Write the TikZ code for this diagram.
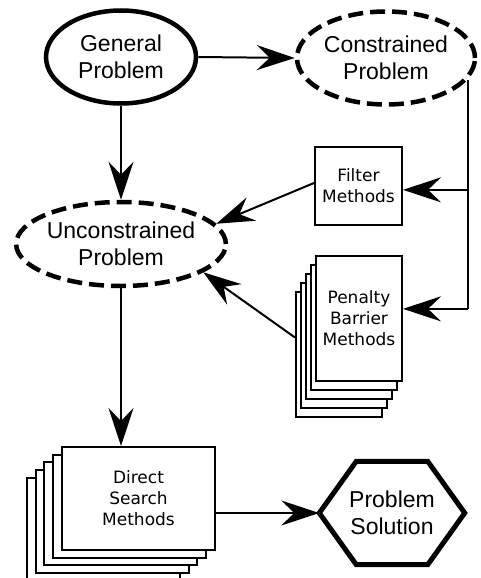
\documentclass[tikz,border=0pt]{standalone}
\usepackage{fontspec}
\usetikzlibrary{arrows.meta,calc,shapes.geometric}
\newfontfamily\ellfont{Liberation Sans}
\newfontfamily\boxfont{DejaVu Sans}
\tikzset{
  bigell/.style={draw, ellipse, line width=4.5pt, inner sep=0pt, align=center,
     font=\ellfont\fontsize{23}{27}\selectfont},
  dashell/.style={bigell, dash pattern=on 15pt off 7pt},
  methbox/.style={draw, fill=white, line width=2pt, inner sep=0pt, align=center,
     font=\boxfont\fontsize{17}{21}\selectfont},
  arr/.style={line width=2pt, -{Stealth[length=38pt,width=25pt,inset=13pt]}},
  plain/.style={line width=2pt}
}
\begin{document}
\begin{tikzpicture}[x=1pt,y=-1pt]
\useasboundingbox (0,0) rectangle (481,578);
\clip (0,0) rectangle (481,578);
% ellipses
\node[bigell, minimum width=150pt, minimum height=93pt] (gen) at (121,57) {General\\Problem};
\node[dashell, minimum width=178pt, minimum height=93pt] (con) at (386,58) {Constrained\\Problem};
\node[dashell, minimum width=208pt, minimum height=84pt] (unc) at (121,244) {Unconstrained\\Problem};
% filter box
\node[methbox, minimum width=87pt, minimum height=78pt] (filt) at (358.5,186) {Filter\\Methods};
% penalty stack
\foreach \k in {4,3,2,1}{
  \node[methbox, minimum width=86pt, minimum height=125pt] (pen\k) at ({359-5*\k},{318.5+9*\k}) {};
}
\node[methbox, minimum width=86pt, minimum height=125pt] (pen) at (359,318.5) {Penalty\\Barrier\\Methods};
% direct stack
\foreach \k in {4,3,2,1}{
  \node[methbox, minimum width=153pt, minimum height=103pt] (dir\k) at ({138.5-8.8*\k},{498.5+7.7*\k}) {};
}
\node[methbox, minimum width=153pt, minimum height=103pt] (dir) at (138.5,498.5) {Direct\\Search\\Methods};
% hexagon
\node[inner sep=0pt, minimum width=145pt, minimum height=103pt, align=center,
      font=\ellfont\fontsize{23}{27}\selectfont] (sol) at (392,513) {Problem\\Solution};
\draw[line width=5pt, line join=miter]
  (sol.west) -- ($(sol.north west)+(37,0)$) -- ($(sol.north east)+(-37,0)$) -- (sol.east)
  -- ($(sol.south east)+(-37,0)$) -- ($(sol.south west)+(37,0)$) -- cycle;
% connectors
\coordinate (j1) at ($(con.-15)+(0,110)$);
\coordinate (j2) at ($(con.-15)+(0,229)$);
\draw[arr] (gen.east) -- (con.west);
\draw[plain] (con.-15) -- (j2);
\draw[arr] (j1) -- (filt.east |- j1);
\draw[arr] (j2) -- (pen.east |- j2);
\draw[arr] (gen.south) -- (unc.north);
\draw[arr] ($(filt.west)+(0,-3)$) -- (unc.12);
\draw[arr] ($(pen4.west)+(0,-17)$) -- (unc.-19);
\draw[arr] (unc.south) -- (unc.south |- dir.north);
\draw[arr] (dir.east |- sol.west) -- (sol.west);
\end{tikzpicture}
\end{document}
